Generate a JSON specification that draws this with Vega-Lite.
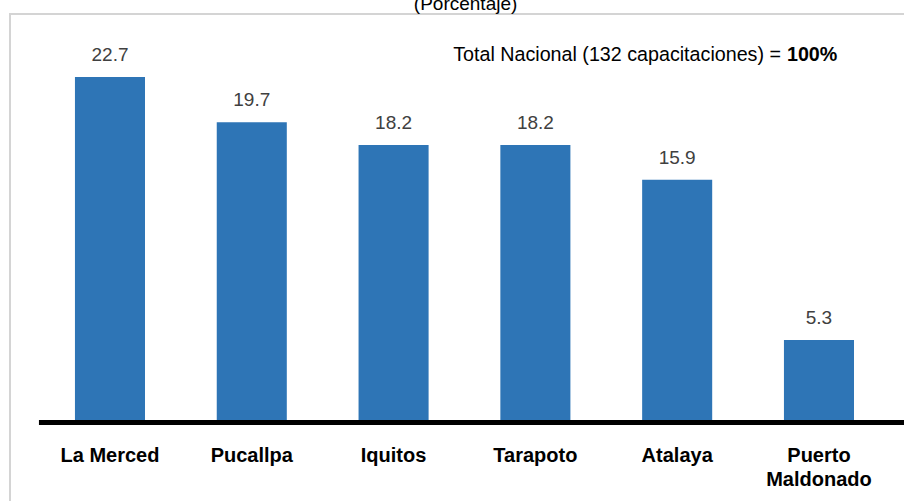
{
  "$schema": "https://vega.github.io/schema/vega-lite/v6.json",
  "autosize": "none",
  "width": 900,
  "height": 490,
  "padding": {"left": 10, "top": 14, "right": 0, "bottom": 0},
  "background": "white",
  "config": {
    "view": {"stroke": "#d4d4d4", "strokeWidth": 2},
    "text": {"font": "Liberation Sans, Arial"}
  },
  "data": {
    "values": [
      {"cat": "La Merced", "val": 22.7, "lab": "La Merced"},
      {"cat": "Pucallpa", "val": 19.7, "lab": "Pucallpa"},
      {"cat": "Iquitos", "val": 18.2, "lab": "Iquitos"},
      {"cat": "Tarapoto", "val": 18.2, "lab": "Tarapoto"},
      {"cat": "Atalaya", "val": 15.9, "lab": "Atalaya"},
      {"cat": "Puerto Maldonado", "val": 5.3, "lab": "Puerto\nMaldonado"}
    ]
  },
  "encoding": {
    "x": {
      "field": "cat",
      "type": "nominal",
      "sort": null,
      "axis": null,
      "scale": {
        "domain": ["La Merced", "Pucallpa", "Iquitos", "Tarapoto", "Atalaya", "Puerto Maldonado"],
        "paddingInner": 0.506,
        "paddingOuter": 0.4265,
        "align": 0.537
      }
    }
  },
  "layer": [
    {
      "mark": {"type": "bar", "color": "#2e75b6"},
      "encoding": {
        "y": {"field": "val", "type": "quantitative", "axis": null, "scale": {"domain": [-5.56, 26.87], "nice": false, "zero": false}}
      }
    },
    {
      "mark": {"type": "text", "baseline": "alphabetic", "dy": -16, "fontSize": 19, "color": "#404040"},
      "encoding": {
        "y": {"field": "val", "type": "quantitative"},
        "text": {"field": "val", "type": "quantitative", "format": ".1f"}
      }
    },
    {
      "data": {"values": [{"from": "La Merced", "to": "Puerto Maldonado", "y": 0}]},
      "mark": {"type": "rule", "color": "#000000", "strokeWidth": 5},
      "encoding": {
        "x": {"field": "from", "type": "nominal", "bandPosition": -0.514},
        "x2": {"field": "to", "bandPosition": 1.75},
        "y": {"datum": -0.165}
      }
    },
    {
      "mark": {"type": "text", "baseline": "alphabetic", "fontSize": 20, "fontWeight": "bold", "color": "#000000", "lineBreak": "\n", "lineHeight": 24},
      "encoding": {
        "y": {"datum": -2.78},
        "text": {"field": "lab"}
      }
    },
    {
      "data": {"values": [{"cat": "Iquitos", "t": "(Porcentaje)"}]},
      "mark": {"type": "text", "baseline": "alphabetic", "align": "center", "dx": 72, "fontSize": 19, "color": "#000000"},
      "encoding": {
        "y": {"datum": 27.13},
        "text": {"field": "t"}
      }
    },
    {
      "data": {"values": [{"cat": "Puerto Maldonado", "t": "Total Nacional (132 capacitaciones) ="}]},
      "mark": {"type": "text", "baseline": "alphabetic", "align": "right", "dx": -38, "fontSize": 19.7, "color": "#000000"},
      "encoding": {
        "y": {"datum": 23.76},
        "text": {"field": "t"}
      }
    },
    {
      "data": {"values": [{"cat": "Puerto Maldonado", "t": "100%"}]},
      "mark": {"type": "text", "baseline": "alphabetic", "align": "left", "dx": -32, "fontSize": 19.7, "fontWeight": "bold", "color": "#000000"},
      "encoding": {
        "y": {"datum": 23.76},
        "text": {"field": "t"}
      }
    }
  ]
}
